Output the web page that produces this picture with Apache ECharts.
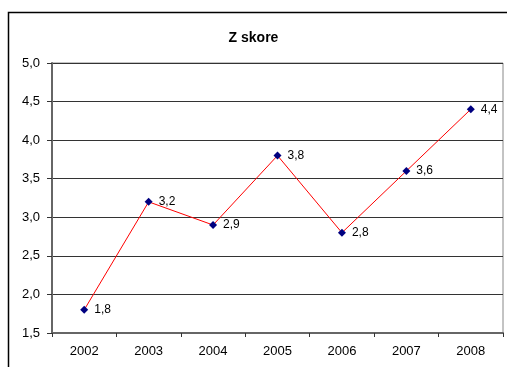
<!DOCTYPE html>
<html>
<head>
<meta charset="utf-8">
<script src="https://cdn.jsdelivr.net/npm/echarts@6/dist/echarts.min.js"></script>
<style>
  html, body { margin: 0; padding: 0; background: #fff; }
  #chart { width: 507px; height: 367px; }
</style>
</head>
<body>
<div id="chart"></div>
<script>
// Z-score by year
const years = ['2002', '2003', '2004', '2005', '2006', '2007', '2008'];
const zScores = [1.8, 3.2, 2.9, 3.8, 2.8, 3.6, 4.4];
const chartTitle = 'Z skore';

const fmt = v => v.toFixed(1).replace('.', ',');
const FONT = 'Liberation Sans, Arial, sans-serif';

const chart = echarts.init(document.getElementById('chart'), null, { renderer: 'canvas' });
chart.setOption({
  animation: false,
  backgroundColor: '#fff',
  textStyle: { fontFamily: FONT },
  title: {
    text: chartTitle,
    left: 'center',
    top: 26,
    textStyle: { fontSize: 14, fontWeight: 'bold', color: '#000', fontFamily: FONT }
  },
  graphic: [{
    type: 'rect',
    shape: { x: 8.5, y: 12.5, width: 520, height: 380 },
    style: { fill: 'none', stroke: '#000', lineWidth: 1.5 },
    silent: true
  }, {
    type: 'rect',
    shape: { x: 52, y: 63, width: 451, height: 270 },
    style: { fill: 'none', stroke: '#888', lineWidth: 1 },
    silent: true,
    z: -1
  }],
  grid: { left: 52, top: 63, right: 4, bottom: 34, containLabel: false },
  xAxis: {
    type: 'category',
    data: years,
    boundaryGap: true,
    axisLine: { lineStyle: { color: '#666', width: 2 } },
    axisTick: { show: true, alignWithLabel: false, length: 4, lineStyle: { color: '#333' } },
    axisLabel: { color: '#000', fontSize: 13, margin: 12 },
    splitLine: { show: false }
  },
  yAxis: {
    type: 'value',
    min: 1.5,
    max: 5.0,
    interval: 0.5,
    axisLine: { show: true, lineStyle: { color: '#666', width: 2 } },
    axisTick: { show: true, length: 5, lineStyle: { color: '#333' } },
    axisLabel: { color: '#000', fontSize: 13, margin: 12, formatter: v => fmt(v) },
    splitLine: { show: true, lineStyle: { color: '#333', width: 1 } }
  },
  series: [{
    type: 'line',
    data: zScores,
    symbol: 'diamond',
    symbolSize: 8,
    itemStyle: { color: '#000080' },
    lineStyle: { color: '#ff0000', width: 1 },
    label: {
      show: true,
      position: 'right',
      distance: 6,
      color: '#000',
      fontSize: 12,
      formatter: p => fmt(p.value)
    }
  }]
});
</script>
</body>
</html>
